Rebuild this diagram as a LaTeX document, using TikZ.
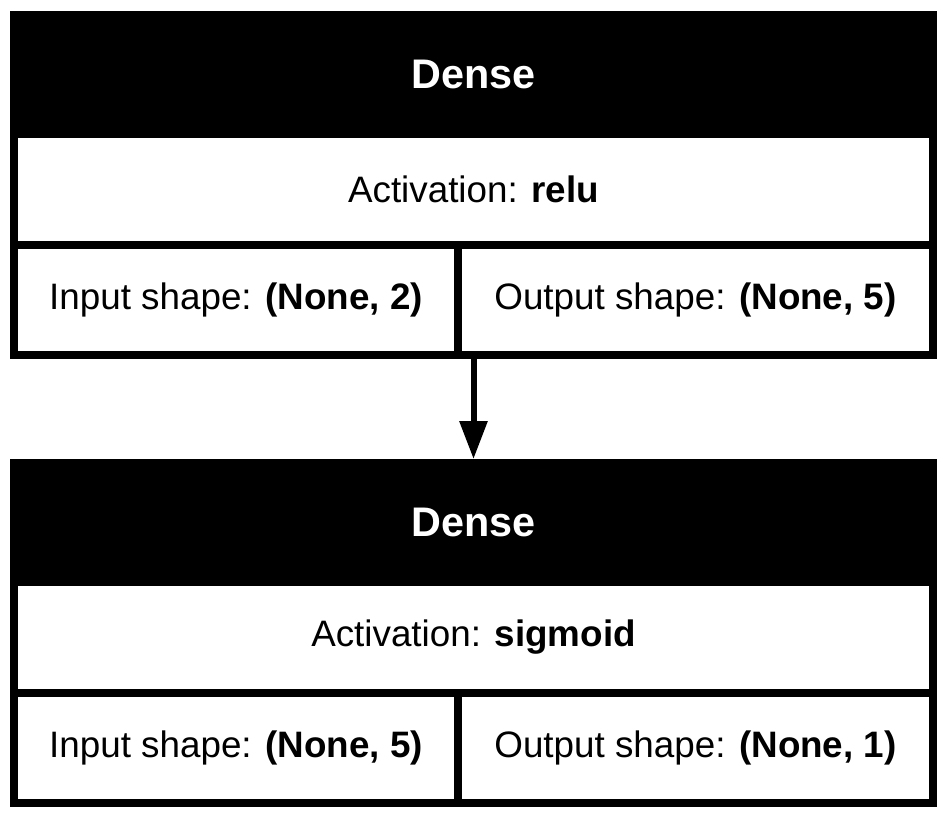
\documentclass[tikz,border=0pt]{standalone}
\usepackage{fontspec}
\setmainfont{Liberation Sans}
\usetikzlibrary{arrows.meta}

\begin{document}
\begin{tikzpicture}[
x=0.75pt, y=-0.75pt,
every node/.style={font=\fontsize{27.6}{32}\selectfont, inner sep=0pt},
cell/.style={draw, line width=6pt, rectangle},
head/.style={cell, fill=black, text=white, font=\fontsize{31}{36}\selectfont\bfseries}
]

\useasboundingbox (0,0) rectangle (947,818);

% first layer
\path
(473.5, 74.5) node[head, minimum width=689.25pt, minimum height=89.25pt] (hdr1) {Dense}
(473.5, 189.25) node[cell, minimum width=689.25pt, minimum height=82.875pt] (act1) {Activation: \textbf{relu}}
(236, 299.75) node[cell, minimum width=333pt, minimum height=82.875pt] (in1) {Input shape: \textbf{(None, 2)}}
(695.5, 299.75) node[cell, minimum width=356.25pt, minimum height=82.875pt] (out1) {Output shape: \textbf{(None, 5)}}
;

% second layer
\path
(473.5, 522.5) node[head, minimum width=689.25pt, minimum height=89.25pt] (hdr2) {Dense}
(473.5, 637.25) node[cell, minimum width=689.25pt, minimum height=82.875pt] (act2) {Activation: \textbf{sigmoid}}
(236, 747.75) node[cell, minimum width=333pt, minimum height=82.875pt] (in2) {Input shape: \textbf{(None, 5)}}
(695.5, 747.75) node[cell, minimum width=356.25pt, minimum height=82.875pt] (out2) {Output shape: \textbf{(None, 1)}}
;

\draw[line width=4.5pt, -{Triangle[length=28.5pt, width=20.25pt]}] (act1.center |- in1.south) -- (hdr2.north);

\end{tikzpicture}
\end{document}
